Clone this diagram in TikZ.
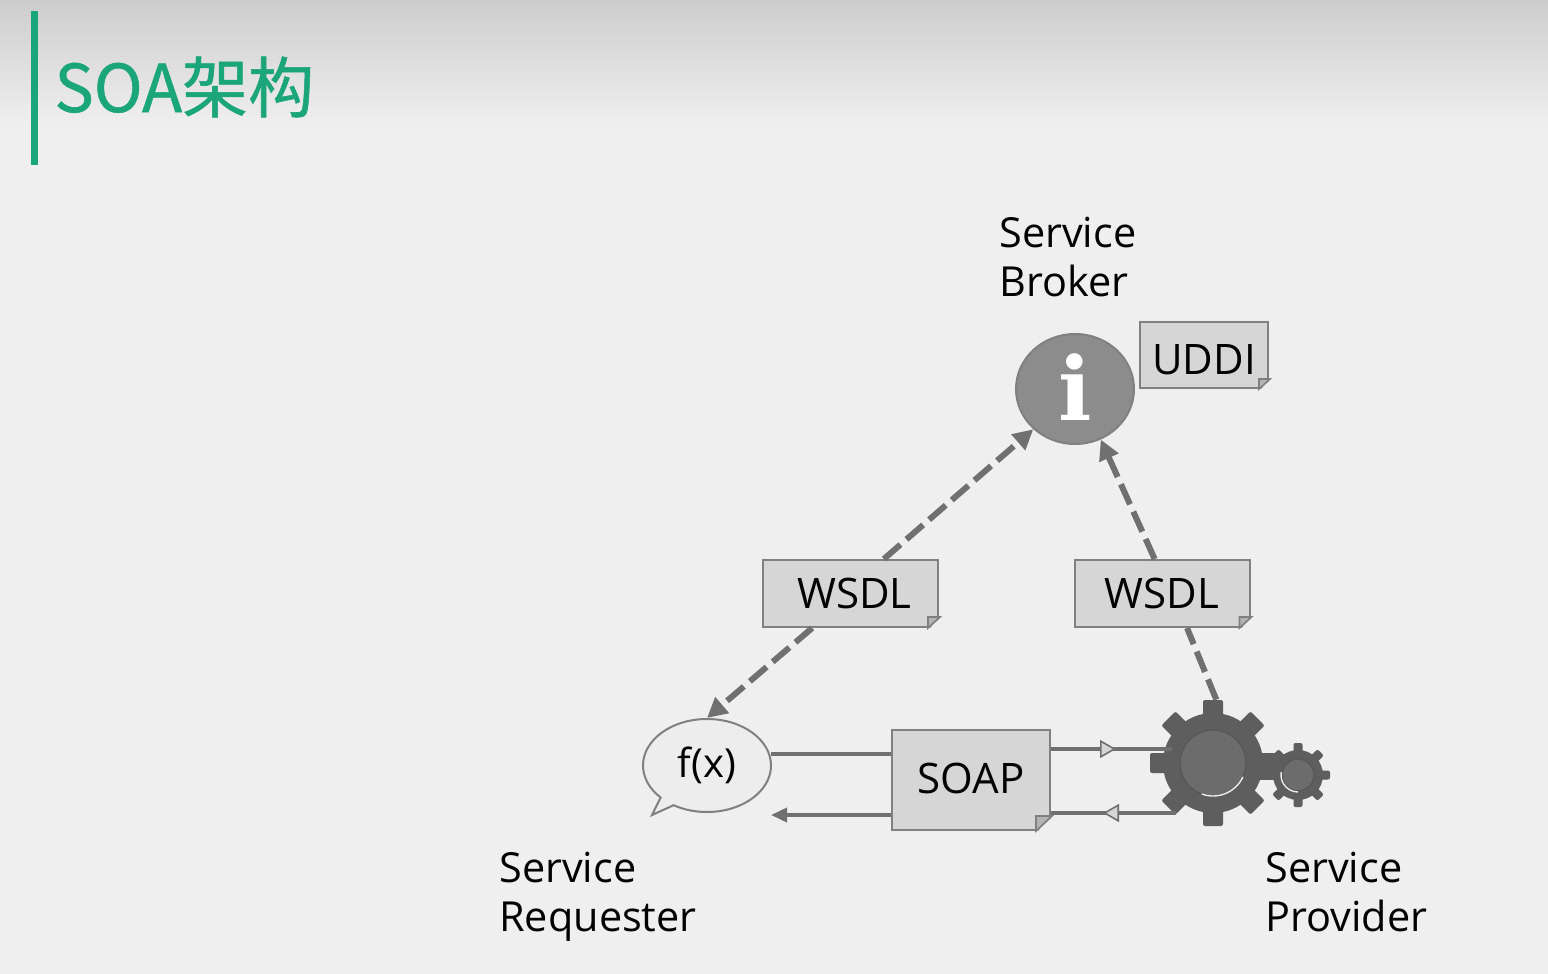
\documentclass[tikz,border=0pt]{standalone}
\usepackage{fontspec}
\setmainfont{Open Sans}
\newfontfamily\titlefont[FakeBold=0.8]{Noto Sans CJK SC}
\newfontfamily\infofont{DejaVu Serif}
\usetikzlibrary{arrows.meta,calc,shapes.geometric,shapes.callouts}

\definecolor{pagegray}{HTML}{EFEFEF}
\definecolor{topgray}{HTML}{CDCDCD}
\definecolor{soagreen}{HTML}{1BA57A}
\definecolor{docgray}{HTML}{D6D6D6}
\definecolor{edgegray}{HTML}{808080}
\definecolor{wiregray}{HTML}{707070}
\definecolor{geargray}{HTML}{5E5E5E}
\definecolor{hubgray}{HTML}{6C6C6C}

\tikzset{
  doc/.style={rectangle, draw=edgegray, fill=docgray, line width=1pt, inner sep=0pt, font=\fontsize{21}{24}\selectfont},
  caption/.style={align=left, inner sep=0pt, anchor=west, font=\fontsize{20.7}{24.5}\selectfont},
  dashwire/.style={draw=wiregray, line width=3pt, dash pattern=on 11pt off 4pt, -{Triangle[length=10pt,width=10pt]}},
  wire/.style={draw=wiregray, line width=1.8pt},
  hollowtip/.style={-{Triangle[length=8pt,width=9pt,fill=docgray,line width=.8pt]}}
}

% dog-ear at the lower right of a document
\newcommand{\pagefold}[2]{
  \fill[pagegray] ($(#1.south east)+(-#2,2)$) -- ($(#1.south east)+(2,2)$) -- ($(#1.south east)+(2,-#2)$) -- cycle;
  \draw[edgegray, fill=gray!40!docgray, line width=.8pt] ($(#1.south east)+(-#2,0)$) -- ($(#1.south east)+(1,-#2)$) -- ($(#1.south east)+(-#2,-#2)$) -- cycle;
}
% center, body radius, tooth radius, tooth width, hub radius
\newcommand{\gearwheel}[5]{
  \foreach \a in {0,45,...,315}
    \fill[geargray, rounded corners=1pt, shift={(#1)}, rotate=\a] (-#4/2,-#3) rectangle (#4/2,0);
  \fill[geargray] (#1) circle [radius=#2];
  \draw[black!65, fill=hubgray, line width=.8pt] (#1) circle [radius=#5];
}

\begin{document}
\begin{tikzpicture}[x=0.5pt, y=-0.5pt]
  \path[use as bounding box, fill=pagegray] (0,0) rectangle (1548,974);
  \shade[top color=topgray, bottom color=pagegray] (0,0) rectangle (1548,125);

  \fill[soagreen] (31,11) rectangle (38,165);
  \node[anchor=west, inner sep=0pt, text=soagreen, font=\titlefont\fontsize{33}{33}\selectfont] (title) at (54,87) {SOA架构};

  % the three parties
  \node[ellipse, draw=edgegray, fill=gray!90!white, line width=1pt, minimum width=59pt, minimum height=55pt, inner sep=0pt, text=white, font=\infofont\bfseries\fontsize{44}{44}\selectfont] (broker) at (1075,389) {\raisebox{2pt}{i}};
  \node[ellipse callout, callout absolute pointer={(652,815)}, draw=edgegray, fill=black!7, line width=1pt, minimum width=64pt, minimum height=46.5pt, inner sep=0pt, font=\fontsize{20}{24}\selectfont] (requester) at (707,765.5) {f(x)};
  \coordinate (gearL) at (1213,763);
  \coordinate (gearS) at (1298,775);
  \fill[geargray] (1255,755) rectangle (1280,780);
  \gearwheel{gearS}{25}{32}{9}{16}
  \gearwheel{gearL}{50}{63}{20}{33}
  \draw[white!85!gray, line width=.7pt] ($(gearL)+(25:33)$) arc [start angle=25, end angle=110, radius=33];
  \draw[white!85!gray, line width=.7pt] ($(gearS)+(90:17)$) arc [start angle=90, end angle=190, radius=17];
  \node[circle, minimum size=63pt, inner sep=0pt] (provider) at (gearL) {};

  % documents
  \node[doc, minimum width=87.5pt, minimum height=33.5pt] (wsdlL) at (850.5,593.5) {\hspace{4pt}WSDL};
  \node[doc, minimum width=87.5pt, minimum height=33.5pt] (wsdlR) at (1162,593.5) {WSDL\hspace{3pt}};
  \node[doc, minimum width=79pt, minimum height=50pt] (soap) at (971,780) {\raisebox{0pt}[13pt][0pt]{SOAP}};
  \node[doc, minimum width=64pt, minimum height=33pt] (uddi) at (1204,355) {\raisebox{0pt}[19pt][0pt]{UDDI}\hspace{2pt}};
  \pagefold{wsdlL}{11}
  \pagefold{wsdlR}{11}
  \pagefold{soap}{15}
  \pagefold{uddi}{10}

  % connectors
  \draw[dashwire] (wsdlL.46) -- (broker.224);
  \draw[dashwire] (wsdlL.222) -- (requester.north);
  \draw[dashwire] (wsdlR.102) -- (broker.-63);
  \draw[dashwire, -] (provider.87) -- (wsdlR.-54);

  \coordinate (reqOut) at (771,754);
  \coordinate (reqIn) at (771,815);
  \coordinate (provIn) at (1172,749);
  \coordinate (provOut) at (1176,813);
  \coordinate (midIn) at (1116,749);
  \coordinate (midOut) at (1103,813);
  \draw[wire] (reqOut) -- (reqOut -| soap.west);
  \draw[wire, -{Triangle[length=8pt,width=7pt]}] (reqIn -| soap.west) -- (reqIn);
  \draw[wire] (provIn -| soap.east) -- (provIn);
  \draw[wire, hollowtip] (midIn -| soap.east) -- (midIn);
  \draw[wire] (provOut) -- (provOut -| soap.east);
  \draw[wire, hollowtip] (provOut) -- (midOut);

  % captions
  \node[caption] (brokerText) at (999,257) {Service\\Broker};
  \node[caption] (requesterText) at (499,897) {Service\\Requester};
  \node[caption] (providerText) at (1265,892) {Service\\Provider};
\end{tikzpicture}
\end{document}
